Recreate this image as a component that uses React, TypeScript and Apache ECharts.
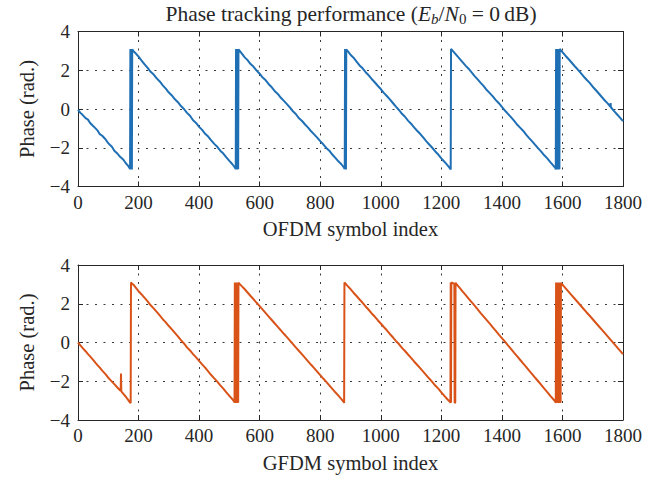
import React, { useEffect, useRef } from "react";
import * as echarts from "echarts";

const xTicks = [0, 200, 400, 600, 800, 1000, 1200, 1400, 1600, 1800];
const yTicks = [-4, -2, 0, 2, 4];

const ofdmPhase: [number, number][] = [
  [0, -0.05], [8, -0.2], [15, -0.3], [25, -0.47], [33, -0.55], [40, -0.72], [50, -0.88], [58, -1.0], [65, -1.12], [72, -1.3], [80, -1.38], [90, -1.55], [98, -1.72], [105, -1.85], [112, -1.95], [120, -2.15], [130, -2.3], [140, -2.48], [150, -2.62], [158, -2.8], [165, -2.92], [172, -3.1],
  [173, 3.1], [174, -3.12], [175, 3.1], [176, -3.1], [177, 3.08], [178, -3.12], [179, 3.08],
  [185, 2.95], [192, 2.85], [200, 2.7], [210, 2.5], [220, 2.3], [230, 2.12], [240, 1.92], [250, 1.78], [260, 1.58], [270, 1.42], [280, 1.22], [290, 1.05], [300, 0.85], [310, 0.7], [320, 0.5], [330, 0.35], [340, 0.15], [350, 0.0], [360, -0.2], [370, -0.35], [380, -0.58], [390, -0.72], [400, -0.92], [410, -1.08], [420, -1.28], [430, -1.42], [440, -1.62], [450, -1.8], [460, -1.95], [470, -2.15], [480, -2.3], [490, -2.5], [500, -2.68], [510, -2.85], [518, -3.02], [521, -3.1],
  [522, 3.1], [523, -3.12], [524, 3.1], [525, -3.1], [526, 3.1], [527, -3.12], [528, 3.1], [529, -3.1], [530, 3.08],
  [540, 2.88], [550, 2.68], [560, 2.52], [570, 2.32], [580, 2.18], [590, 1.98], [600, 1.82], [610, 1.62], [620, 1.48], [630, 1.28], [640, 1.12], [650, 0.92], [660, 0.78], [670, 0.58], [680, 0.42], [690, 0.25], [700, 0.08], [710, -0.12], [720, -0.27], [730, -0.48], [740, -0.62], [750, -0.8], [760, -0.96], [770, -1.15], [780, -1.31], [790, -1.48], [800, -1.66], [810, -1.82], [820, -2.01], [830, -2.15], [840, -2.35], [850, -2.52], [860, -2.7], [870, -2.85], [878, -3.02], [881, -3.1],
  [882, 3.1], [883, -3.1], [884, 3.08], [885, -3.12], [886, 3.08],
  [893, 2.95], [900, 2.8], [910, 2.65], [920, 2.45], [930, 2.25], [940, 2.1], [950, 1.9], [960, 1.74], [970, 1.55], [980, 1.38], [990, 1.2], [1000, 1.03], [1010, 0.83], [1020, 0.67], [1030, 0.5], [1040, 0.31], [1050, 0.12], [1060, -0.05], [1070, -0.25], [1080, -0.4], [1090, -0.6], [1100, -0.76], [1110, -0.95], [1120, -1.12], [1130, -1.28], [1140, -1.47], [1150, -1.66], [1160, -1.83], [1170, -2.0], [1180, -2.19], [1190, -2.35], [1200, -2.55], [1210, -2.72], [1220, -2.9], [1228, -3.05], [1231, -3.12],
  [1232, 3.1],
  [1240, 2.96], [1250, 2.78], [1260, 2.6], [1270, 2.42], [1280, 2.24], [1290, 2.08], [1300, 1.89], [1310, 1.7], [1320, 1.53], [1330, 1.35], [1340, 1.18], [1350, 0.98], [1360, 0.82], [1370, 0.65], [1380, 0.46], [1390, 0.3], [1400, 0.11], [1410, -0.08], [1420, -0.25], [1430, -0.42], [1440, -0.6], [1450, -0.8], [1460, -0.96], [1470, -1.12], [1480, -1.32], [1490, -1.5], [1500, -1.67], [1510, -1.85], [1520, -2.03], [1530, -2.2], [1540, -2.39], [1550, -2.55], [1560, -2.74], [1570, -2.92], [1577, -3.05], [1578, -3.12],
  [1579, 3.1], [1580, -3.12], [1581, 3.1], [1582, -3.1], [1583, 3.1], [1584, -3.12], [1585, 3.1], [1586, -3.1], [1587, 3.1], [1588, -3.12], [1589, 3.1], [1590, -3.1], [1591, 3.1], [1592, 3.08],
  [1600, 2.94], [1610, 2.75], [1620, 2.58], [1630, 2.4], [1640, 2.22], [1650, 2.05], [1660, 1.87], [1670, 1.68], [1680, 1.51], [1690, 1.35], [1700, 1.15], [1710, 0.98], [1720, 0.8], [1730, 0.62], [1740, 0.44], [1750, 0.28], [1758, 0.12], [1759, 0.3], [1760, 0.09], [1770, -0.1], [1780, -0.27], [1790, -0.45], [1800, -0.63],
];

const gfdmPhase: [number, number][] = [
  [0, 0.0], [8, -0.15], [15, -0.28], [25, -0.45], [33, -0.6], [40, -0.72], [50, -0.9], [58, -1.05], [65, -1.18], [72, -1.3], [80, -1.45], [90, -1.62], [98, -1.78], [105, -1.9], [112, -2.02], [120, -2.15], [130, -2.32], [138, -2.45], [141, -2.5], [142, -1.6], [143, -2.52], [150, -2.65], [158, -2.8], [165, -2.95], [172, -3.1], [174, -3.12],
  [175, 3.1], [178, 3.05], [185, 2.95],
  [190, 2.85], [200, 2.65], [210, 2.48], [220, 2.3], [230, 2.12], [240, 1.92], [250, 1.76], [260, 1.58], [270, 1.4], [280, 1.2], [290, 1.04], [300, 0.85], [310, 0.68], [320, 0.5], [330, 0.32], [340, 0.12], [350, -0.05], [360, -0.25], [370, -0.41], [380, -0.6], [390, -0.77], [400, -0.95], [410, -1.13], [420, -1.3], [430, -1.49], [440, -1.68], [450, -1.85], [460, -2.02], [470, -2.21], [480, -2.38], [490, -2.57], [500, -2.75], [510, -2.93], [517, -3.08],
  [518, 3.1], [519, -3.12], [520, 3.1], [521, -3.1], [522, 3.1], [523, -3.12], [524, 3.1], [525, -3.1], [526, 3.1], [527, -3.12], [528, 3.1], [529, -3.1], [530, 3.1], [532, 3.05],
  [540, 2.92], [550, 2.76], [560, 2.58], [570, 2.4], [580, 2.23], [590, 2.05], [600, 1.88], [610, 1.7], [620, 1.52], [630, 1.34], [640, 1.16], [650, 0.98], [660, 0.81], [670, 0.63], [680, 0.45], [690, 0.28], [700, 0.1], [710, -0.08], [720, -0.26], [730, -0.44], [740, -0.61], [750, -0.79], [760, -0.97], [770, -1.15], [780, -1.32], [790, -1.5], [800, -1.68], [810, -1.86], [820, -2.03], [830, -2.21], [840, -2.39], [850, -2.57], [860, -2.74], [870, -2.92], [878, -3.08], [879, -3.12],
  [880, 3.1],
  [890, 2.92], [900, 2.76], [910, 2.57], [920, 2.4], [930, 2.22], [940, 2.05], [950, 1.86], [960, 1.69], [970, 1.5], [980, 1.34], [990, 1.15], [1000, 0.98], [1010, 0.8], [1020, 0.63], [1030, 0.44], [1040, 0.27], [1050, 0.08], [1060, -0.08], [1070, -0.28], [1080, -0.44], [1090, -0.62], [1100, -0.79], [1110, -0.98], [1120, -1.15], [1130, -1.32], [1140, -1.5], [1150, -1.68], [1160, -1.86], [1170, -2.03], [1180, -2.22], [1190, -2.38], [1200, -2.57], [1210, -2.75], [1220, -2.93], [1229, -3.08], [1230, -3.12],
  [1231, 3.1], [1232, -3.1], [1233, 3.1], [1243, 3.02], [1244, -3.12], [1246, -3.1], [1247, 3.1], [1248, 3.05],
  [1260, 2.83], [1270, 2.64], [1280, 2.46], [1290, 2.27], [1300, 2.08], [1310, 1.9], [1320, 1.71], [1330, 1.52], [1340, 1.34], [1350, 1.15], [1360, 0.97], [1370, 0.78], [1380, 0.6], [1390, 0.41], [1400, 0.23], [1410, 0.04], [1420, -0.15], [1430, -0.33], [1440, -0.52], [1450, -0.7], [1460, -0.89], [1470, -1.08], [1480, -1.26], [1490, -1.45], [1500, -1.63], [1510, -1.82], [1520, -2.0], [1530, -2.19], [1540, -2.38], [1550, -2.56], [1560, -2.75], [1570, -2.93], [1577, -3.06], [1578, -3.12],
  [1579, 3.1], [1580, -3.12], [1581, 3.1], [1582, -3.1], [1583, 3.1], [1584, -3.12], [1585, 3.1], [1586, -3.1], [1587, 3.1], [1588, -3.12], [1589, 3.1], [1590, -3.1], [1591, 3.1], [1592, -3.12], [1593, 3.1], [1594, -3.1], [1595, 3.08],
  [1600, 2.99], [1610, 2.81], [1620, 2.63], [1630, 2.45], [1640, 2.27], [1650, 2.09], [1660, 1.91], [1670, 1.73], [1680, 1.55], [1690, 1.38], [1700, 1.2], [1710, 1.02], [1720, 0.84], [1730, 0.66], [1740, 0.48], [1750, 0.3], [1760, 0.12], [1770, -0.06], [1780, -0.24], [1790, -0.42], [1800, -0.6],
];

const FONT = "'Liberation Serif', 'DejaVu Serif', serif";
const INK = "#262626";
const BLUE = "#1f6fb5";
const ORANGE = "#d95319";

const fmt = (v: number) => (v < 0 ? "\u2212" + Math.abs(v) : String(v));

export default function App() {
  const ref = useRef<HTMLDivElement>(null);
  useEffect(() => {
    if (!ref.current) return;
    const chart = echarts.init(ref.current, null, { renderer: "svg" });
    const xMin = xTicks[0];
    const xMax = xTicks[xTicks.length - 1];
    const yMin = yTicks[0];
    const yMax = yTicks[yTicks.length - 1];
    const gridLine = { show: true, lineStyle: { color: "#3a3a3a", type: [2, 6.5], width: 1 } };
    const mkX = (gridIndex: number, name: string) => [
      {
        type: "value", gridIndex, min: xMin, max: xMax, interval: 200, position: "bottom",
        name, nameLocation: "middle", nameGap: 32,
        nameTextStyle: { fontFamily: FONT, fontSize: 20.5, color: INK },
        axisLine: { show: true, onZero: false, lineStyle: { color: INK, width: 1 } },
        axisTick: { show: true, inside: true, length: 5, lineStyle: { color: INK } },
        axisLabel: { fontFamily: FONT, fontSize: 19, color: INK, margin: 6, formatter: fmt },
        splitLine: gridLine,
      },
      {
        type: "value", gridIndex, min: xMin, max: xMax, interval: 200, position: "top",
        axisLine: { show: true, onZero: false, lineStyle: { color: INK, width: 1 } },
        axisTick: { show: true, inside: true, length: 5, lineStyle: { color: INK } },
        axisLabel: { show: false },
        splitLine: { show: false },
      },
    ];
    const mkY = (gridIndex: number) => [
      {
        type: "value", gridIndex, min: yMin, max: yMax, interval: 2, position: "left",
        name: "Phase (rad.)", nameLocation: "middle", nameGap: 41, nameRotate: 90,
        nameTextStyle: { fontFamily: FONT, fontSize: 20.5, color: INK },
        axisLine: { show: true, onZero: false, lineStyle: { color: INK, width: 1 } },
        axisTick: { show: true, inside: true, length: 5, lineStyle: { color: INK } },
        axisLabel: { fontFamily: FONT, fontSize: 19, color: INK, margin: 8, formatter: fmt },
        splitLine: gridLine,
      },
      {
        type: "value", gridIndex, min: yMin, max: yMax, interval: 2, position: "right",
        axisLine: { show: true, onZero: false, lineStyle: { color: INK, width: 1 } },
        axisTick: { show: true, inside: true, length: 5, lineStyle: { color: INK } },
        axisLabel: { show: false },
        splitLine: { show: false },
      },
    ];
    chart.setOption({
      animation: false,
      backgroundColor: "#ffffff",
      grid: [
        { left: 78, top: 31.5, width: 545, height: 155 },
        { left: 78, top: 265, width: 545, height: 155 },
      ],
      xAxis: [...mkX(0, "OFDM symbol index"), ...mkX(1, "GFDM symbol index")],
      yAxis: [...mkY(0), ...mkY(1)],
      series: [
        {
          type: "line", xAxisIndex: 0, yAxisIndex: 0, data: ofdmPhase, showSymbol: false,
          lineStyle: { color: BLUE, width: 2 }, itemStyle: { color: BLUE },
        },
        {
          type: "line", xAxisIndex: 2, yAxisIndex: 2, data: gfdmPhase, showSymbol: false,
          lineStyle: { color: ORANGE, width: 2 }, itemStyle: { color: ORANGE },
        },
      ],
      graphic: [
        {
          type: "text", x: 351, y: 14,
          style: {
            text: "{a|Phase tracking performance (}{i|E}{si|b}{a|/}{i|N}{s|0}{a| = 0\u2009dB)}",
            align: "center", verticalAlign: "middle",
            rich: {
              a: { fontFamily: FONT, fontSize: 21.5, lineHeight: 24, fill: INK },
              i: { fontFamily: FONT, fontSize: 21.5, lineHeight: 24, fontStyle: "italic", fill: INK },
              si: { fontFamily: FONT, fontSize: 15, lineHeight: 15, fontStyle: "italic", padding: [10, 0, 0, 0], fill: INK },
              s: { fontFamily: FONT, fontSize: 15, lineHeight: 15, padding: [10, 0, 0, 0], fill: INK },
            },
          },
        },
      ],
    });
    return () => chart.dispose();
  }, []);
  return <div ref={ref} style={{ position: "absolute", left: 0, top: 0, width: 663, height: 483 }} />;
}
